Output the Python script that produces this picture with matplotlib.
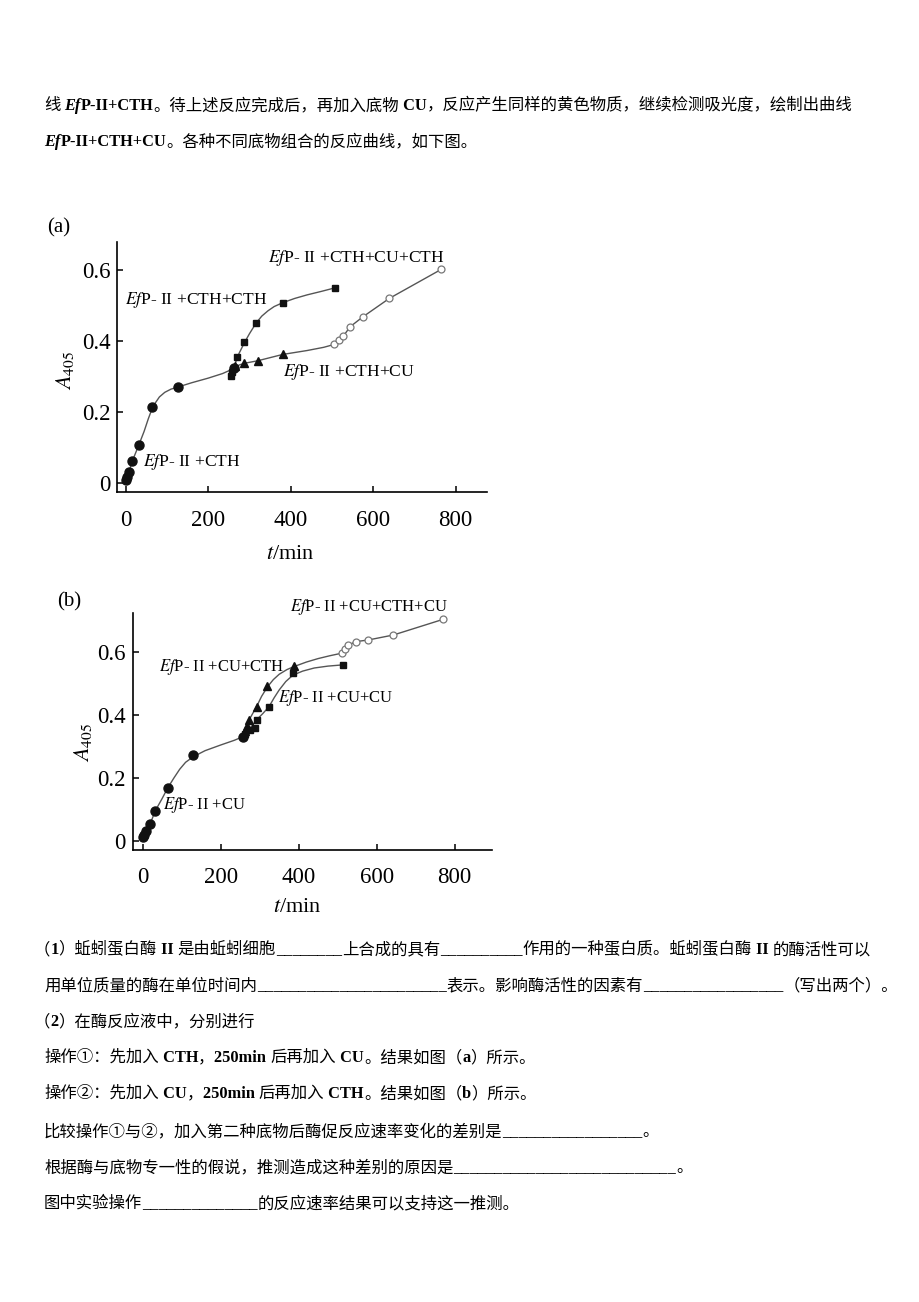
import re
import matplotlib
matplotlib.use("Agg")
import matplotlib.pyplot as plt

plt.rcParams['mathtext.fontset'] = 'stix'
plt.rcParams['font.family'] = ['Liberation Serif', 'Noto Sans CJK SC']

W, H = 920, 1302
CJK = ['Liberation Serif', 'Noto Sans CJK SC']

# ---------------- data, panel (a) ----------------
a_cth_t = [0, 4, 8, 16, 32, 63, 127, 262]
a_cth_A = [0.008, 0.017, 0.031, 0.06, 0.106, 0.214, 0.27, 0.325]
a_cth_line_t = [0, 8, 16, 32, 45, 55, 63, 72, 82, 95, 110, 127, 160, 200, 235, 262]
a_cth_line_A = [0.005, 0.03, 0.06, 0.106, 0.145, 0.18, 0.205, 0.225, 0.242, 0.255, 0.264,
                0.27, 0.282, 0.295, 0.308, 0.322]

a_cthcth_t = [255, 258, 270, 288, 316, 381, 508]
a_cthcth_A = [0.30, 0.313, 0.355, 0.396, 0.451, 0.508, 0.55]
a_cthcth_line_t = [258, 265, 275, 288, 300, 316, 330, 345, 360, 381, 410, 440, 475, 508]
a_cthcth_line_A = [0.31, 0.335, 0.365, 0.395, 0.42, 0.45, 0.47, 0.485, 0.497, 0.508, 0.52,
                   0.53, 0.54, 0.55]

a_cthcu_t = [264, 288, 320, 381]
a_cthcu_A = [0.329, 0.337, 0.344, 0.363]
a_cthcu_line_t = [262, 275, 288, 320, 381, 440, 480, 505]
a_cthcu_line_A = [0.322, 0.332, 0.337, 0.344, 0.362, 0.373, 0.382, 0.39]

a_4_t = [505, 516, 528, 544, 575, 639, 765]
a_4_A = [0.39, 0.404, 0.414, 0.44, 0.468, 0.52, 0.602]

# ---------------- data, panel (b) ----------------
b_cu_t = [0, 4, 8, 19, 32, 64, 130, 258]
b_cu_A = [0.011, 0.019, 0.03, 0.053, 0.095, 0.168, 0.273, 0.332]
b_cu_line_t = [0, 8, 19, 32, 50, 64, 80, 95, 110, 130, 160, 200, 235, 258]
b_cu_line_A = [0.011, 0.03, 0.053, 0.095, 0.135, 0.168, 0.2, 0.228, 0.25, 0.268, 0.287,
               0.305, 0.32, 0.332]

b_cucth_t = [262, 268, 273, 292, 320, 387]
b_cucth_A = [0.348, 0.367, 0.385, 0.427, 0.494, 0.557]
b_cucth_line_t = [258, 262, 268, 273, 282, 292, 305, 320, 335, 350, 370, 389, 420, 450, 480, 510]
b_cucth_line_A = [0.332, 0.348, 0.367, 0.385, 0.405, 0.427, 0.46, 0.49, 0.513, 0.53, 0.545,
                  0.555, 0.569, 0.58, 0.589, 0.597]

b_cucu_t = [262, 274, 287, 292, 324, 386, 514]
b_cucu_A = [0.34, 0.353, 0.36, 0.385, 0.427, 0.535, 0.56]
b_cucu_line_t = [258, 265, 273, 282, 292, 308, 324, 337, 350, 367, 385, 410, 440, 475, 514]
b_cucu_line_A = [0.332, 0.343, 0.355, 0.368, 0.385, 0.405, 0.427, 0.455, 0.48, 0.507, 0.527,
                 0.54, 0.55, 0.556, 0.56]

b_4_t = [510, 519, 527, 547, 578, 643, 771]
b_4_A = [0.597, 0.61, 0.623, 0.634, 0.639, 0.655, 0.705]

xticks = [0, 200, 400, 600, 800]
yticks = [0, 0.2, 0.4, 0.6]
ytick_labels = ['0', '0.2', '0.4', '0.6']

top_lines = [
    (106, "线 *Ef*P-II+CTH。待上述反应完成后，再加入底物 CU，反应产生同样的黄色物质，继续检测吸光度，绘制出曲线"),
    (142, "*Ef*P-II+CTH+CU。各种不同底物组合的反应曲线，如下图。"),
]
bottom_lines = [
    (950, 34, "（1）蚯蚓蛋白酶 II 是由蚯蚓细胞________上合成的具有__________作用的一种蛋白质。蚯蚓蛋白酶 II 的酶活性可以"),
    (986, 44, "用单位质量的酶在单位时间内_______________________表示。影响酶活性的因素有_________________（写出两个）。"),
    (1022, 34, "（2）在酶反应液中，分别进行"),
    (1058, 44, "操作①：先加入 CTH，250min 后再加入 CU。结果如图（a）所示。"),
    (1094, 44, "操作②：先加入 CU，250min 后再加入 CTH。结果如图（b）所示。"),
    (1132, 44, "比较操作①与②，加入第二种底物后酶促反应速率变化的差别是_________________。"),
    (1168, 44, "根据酶与底物专一性的假说，推测造成这种差别的原因是___________________________。"),
    (1204, 44, "图中实验操作______________的反应速率结果可以支持这一推测。"),
]

fig = plt.figure(figsize=(W / 100, H / 100), dpi=100)
bg = fig.add_axes([0, 0, 1, 1])
bg.axis('off')


def write_line(y_px, text, x_px=44, size=11.8):
    # latin runs in bold Times-like face, *...* italic, CJK runs fall back to Noto
    runs = re.findall(r'\*[^*]+\*|[\x00-\x29\x2b-\x7f]+|[^\x00-\x7f]+', text)
    prev = None
    for r in runs:
        kw = dict(fontsize=size, family=CJK, va='center', ha='left')
        if r.startswith('*'):
            r = r.strip('*')
            kw.update(style='italic', weight='bold')
        elif r.isascii():
            kw.update(weight='bold')
        if prev is None:
            prev = bg.text(x_px / W, 1 - y_px / H, r, transform=bg.transAxes, **kw)
        else:
            prev = bg.annotate(r, xy=(1, 0.5), xycoords=prev, **kw)


for y, t in top_lines:
    write_line(y, t)
for y, x, t in bottom_lines:
    write_line(y, t, x_px=x)


def style_axes(ax, xlim, ylim, xpad):
    ax.set_xlim(*xlim)
    ax.set_ylim(*ylim)
    ax.spines['top'].set_visible(False)
    ax.spines['right'].set_visible(False)
    for s in ('left', 'bottom'):
        ax.spines[s].set_linewidth(1.2)
    ax.set_xticks(xticks)
    ax.set_yticks(yticks)
    ax.set_yticklabels(ytick_labels)
    ax.tick_params(axis='both', direction='in', length=4, width=1.1, labelsize=16.5)
    ax.tick_params(axis='x', pad=xpad)
    ax.tick_params(axis='y', pad=5)


def line(ax, t, A):
    ax.plot(t, A, color='#555555', lw=1.0, zorder=2)


def pts(ax, t, A, m, filled=True, ms=6):
    if filled:
        ax.plot(t, A, ls='none', marker=m, ms=ms, color='#111111', zorder=3)
    else:
        ax.plot(t, A, ls='none', marker=m, ms=ms, mfc='white', mec='#777777', mew=0.9, zorder=3)


def label(ax, t, A, s, size=12.6):
    ax.text(t, A, r'$Ef$P- II +' + s, fontsize=size, ha='left', va='center',
            family='Liberation Serif', clip_on=False)


# ---------------- panel (a) ----------------
axa = fig.add_axes([117.3 / W, 1 - 492.3 / H, 369.4 / W, 250.6 / H])
style_axes(axa, (-20, 875), (-0.027, 0.68), 13)
line(axa, a_cth_line_t, a_cth_line_A)
line(axa, a_cthcth_line_t, a_cthcth_line_A)
line(axa, a_cthcu_line_t, a_cthcu_line_A)
line(axa, a_4_t, a_4_A)
pts(axa, a_cth_t, a_cth_A, 'o', ms=6.5)
pts(axa, a_cthcth_t, a_cthcth_A, 's', ms=5)
pts(axa, a_cthcu_t, a_cthcu_A, '^', ms=5.5)
pts(axa, a_4_t, a_4_A, 'o', filled=False, ms=5)
label(axa, 345, 0.633, 'CTH+CU+CTH')
label(axa, -1, 0.515, 'CTH+CTH')
label(axa, 382, 0.312, 'CTH+CU')
label(axa, 42, 0.058, 'CTH')
axa.text(-0.19, 1.055, '(a)', transform=axa.transAxes, fontsize=15, ha='left', va='center')
axa.text(0.4675, -0.25, '$t$/min', transform=axa.transAxes, fontsize=16, ha='center', va='center')
axa.text(-0.142, 0.488, '$A_{405}$', transform=axa.transAxes, fontsize=16, ha='center',
         va='center', rotation=90)

# ---------------- panel (b) ----------------
axb = fig.add_axes([132.7 / W, 1 - 850 / H, 359 / W, 236.7 / H])
style_axes(axb, (-25.6, 895), (-0.029, 0.724), 12)
line(axb, b_cu_line_t, b_cu_line_A)
line(axb, b_cucth_line_t, b_cucth_line_A)
line(axb, b_cucu_line_t, b_cucu_line_A)
line(axb, b_4_t, b_4_A)
pts(axb, b_cu_t, b_cu_A, 'o', ms=6.5)
pts(axb, b_cucu_t, b_cucu_A, 's', ms=5)
pts(axb, b_cucth_t, b_cucth_A, '^', ms=5.5)
pts(axb, b_4_t, b_4_A, 'o', filled=False, ms=5)
label(axb, 378, 0.744, 'CU+CTH+CU', 12)
label(axb, 42, 0.553, 'CU+CTH', 12)
label(axb, 347, 0.455, 'CU+CU', 12)
label(axb, 52, 0.114, 'CU', 12)
axb.text(-0.211, 1.048, '(b)', transform=axb.transAxes, fontsize=15, ha='left', va='center')
axb.text(0.458, -0.245, '$t$/min', transform=axb.transAxes, fontsize=16, ha='center', va='center')
axb.text(-0.138, 0.456, '$A_{405}$', transform=axb.transAxes, fontsize=16, ha='center',
         va='center', rotation=90)

fig.savefig('out.png', dpi=100)
